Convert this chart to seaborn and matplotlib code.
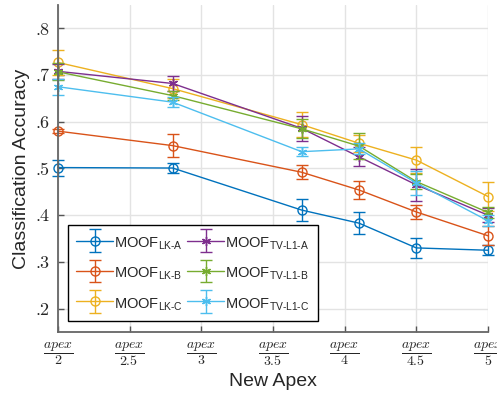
import matplotlib.pyplot as plt
import seaborn as sns
from matplotlib.container import ErrorbarContainer
from matplotlib.legend_handler import HandlerErrorbar

# x positions (frame ratio denominators) and per-method accuracies
apex_div = [2, 2.8, 3.7, 4.1, 4.5, 5]
tick_div = [2, 2.5, 3, 3.5, 4, 4.5, 5]
methods = ["LK-A", "LK-B", "LK-C", "TV-L1-A", "TV-L1-B", "TV-L1-C"]

lk_a = [0.502, 0.501, 0.411, 0.383, 0.330, 0.325]
lk_b = [0.580, 0.549, 0.492, 0.454, 0.407, 0.356]
lk_c = [0.727, 0.671, 0.594, 0.554, 0.518, 0.440]
tv_a = [0.708, 0.682, 0.586, 0.525, 0.465, 0.400]
tv_b = [0.707, 0.656, 0.585, 0.548, 0.472, 0.406]
tv_c = [0.675, 0.642, 0.536, 0.542, 0.469, 0.388]

lk_a_err = [0.017, 0.010, 0.024, 0.024, 0.022, 0.011]
lk_b_err = [0.005, 0.024, 0.015, 0.020, 0.015, 0.020]
lk_c_err = [0.027, 0.020, 0.027, 0.018, 0.027, 0.032]
tv_a_err = [0.016, 0.016, 0.027, 0.020, 0.034, 0.015]
tv_b_err = [0.018, 0.010, 0.020, 0.028, 0.016, 0.012]
tv_c_err = [0.017, 0.010, 0.010, 0.012, 0.025, 0.012]

values = [lk_a, lk_b, lk_c, tv_a, tv_b, tv_c]
errors = [lk_a_err, lk_b_err, lk_c_err, tv_a_err, tv_b_err, tv_c_err]
colors = ["#0072BD", "#D95319", "#EDB120", "#7E2F8E", "#77AC30", "#4DBEEE"]
markers = ["o", "o", "o", (6, 2, 0), (6, 2, 0), (6, 2, 0)]

sns.set_style("whitegrid")
plt.rcParams["font.family"] = ["Liberation Sans", "DejaVu Sans"]
plt.rcParams["mathtext.fontset"] = "custom"
plt.rcParams["mathtext.rm"] = "Liberation Sans"
plt.rcParams["mathtext.it"] = "Liberation Sans:italic"

fig = plt.figure(figsize=(4.97, 3.97), dpi=100)
ax = fig.add_axes([58 / 497, 1 - 332 / 397, 430 / 497, 327 / 397])

handles = []
for name, vals, errs, c, m in zip(methods, values, errors, colors, markers):
    sns.lineplot(x=apex_div, y=vals, color=c, marker=m, markersize=6.5,
                 mfc="none", mec=c, mew=1.0, linewidth=1.0, ax=ax,
                 legend=False, clip_on=False)
    line = ax.lines[-1]
    eb = ax.errorbar(apex_div, vals, yerr=errs, fmt="none", ecolor=c,
                     elinewidth=1.0, capsize=4, capthick=1.0, clip_on=False)
    label = r"$\mathrm{MOOF}_{\text{" + name + "}}$"
    handles.append(ErrorbarContainer((line, eb[1], eb[2]), has_xerr=False,
                                     has_yerr=True, label=label))

ax.set_xlim(2, 5)
ax.set_ylim(0.15, 0.85)
ax.set_xticks(tick_div)
ax.set_xticklabels([r"$\dfrac{apex}{%g}$" % t for t in tick_div],
                   math_fontfamily="cm", fontsize=10)
ax.set_yticks([0.2, 0.3, 0.4, 0.5, 0.6, 0.7, 0.8])
ax.set_yticklabels([".%d" % d for d in range(2, 9)],
                   fontfamily="cmr10", fontsize=13)

ax.grid(True, color="#e3e3e3", linewidth=1.0)
ax.tick_params(direction="in", length=4, width=1.0, color="#555555",
               left=True, bottom=True, pad=6)
for s in ["top", "right"]:
    ax.spines[s].set_visible(False)
for s in ["left", "bottom"]:
    ax.spines[s].set_color("#666666")
    ax.spines[s].set_linewidth(1.3)

ax.set_xlabel("New Apex", fontsize=14, color="#262626", labelpad=4)
ax.set_ylabel("Classification Accuracy", fontsize=14, color="#262626",
              labelpad=4)

leg = ax.legend(handles=handles, ncol=2, loc="lower left",
                bbox_to_anchor=(10 / 430, 11 / 327), fontsize=10.5,
                frameon=True, fancybox=False, framealpha=1,
                edgecolor="black", handlelength=2.55, handleheight=1.6,
                columnspacing=0.25, labelspacing=0.8, borderpad=0.55,
                handletextpad=0.08, borderaxespad=0,
                handler_map={ErrorbarContainer: HandlerErrorbar(yerr_size=0.78)})
leg.get_frame().set_linewidth(1.0)

fig.savefig("out.png", dpi=100)
